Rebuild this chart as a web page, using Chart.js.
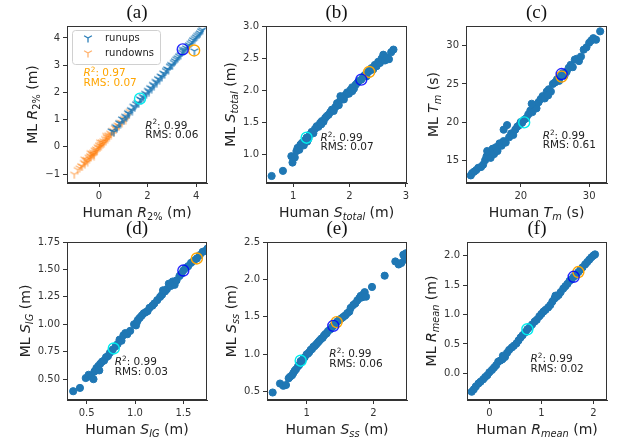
<!DOCTYPE html>
<html>
<head>
<meta charset="utf-8">
<title>ML vs human estimates</title>
<script src="https://cdn.jsdelivr.net/npm/chart.js@4.4.1/dist/chart.umd.min.js"></script>
<style>
  body { margin: 0; background: #fff; }
  #fig { position: relative; width: 619px; height: 442px; overflow: hidden; }
  .panel { position: absolute; }
</style>
</head>
<body>
<div id="fig"></div>
<script>
// (a) R2% : runups and rundowns
const runupHuman = [0.52,0.61,0.68,0.74,0.83,0.88,0.95,1.02,1.08,1.13,1.19,1.24,1.31,1.37,1.42,1.47,1.53,1.58,1.63,1.69,1.74,1.79,1.84,1.9,1.95,2.01,2.06,2.11,2.17,2.22,2.27,2.33,2.38,2.43,2.49,2.54,2.59,2.65,2.7,2.76,2.81,2.86,2.92,2.97,3.02,3.08,3.13,3.19,3.24,3.3,3.36,3.42,3.48,3.53,3.59,3.65,3.71,3.77,3.83,3.88,3.93,3.94,4.0,4.05,4.11,4.16,4.21,4.26,3.45];
const runupML    = [0.58,0.55,0.74,0.7,0.88,0.85,1.02,0.97,1.12,1.08,1.25,1.21,1.36,1.33,1.49,1.45,1.57,1.62,1.6,1.76,1.72,1.85,1.81,1.96,1.93,2.07,2.03,2.17,2.14,2.29,2.25,2.4,2.36,2.5,2.47,2.6,2.57,2.71,2.67,2.8,2.86,2.83,2.96,3.02,2.99,3.1,3.16,3.22,3.27,3.33,3.38,3.47,3.52,3.57,3.63,3.7,3.74,3.8,3.86,3.93,3.52,3.98,4.03,4.09,4.13,4.18,4.25,4.3,3.58];
const rundownHuman = [-1.02,-0.88,-0.8,-0.74,-0.69,-0.63,-0.58,-0.55,-0.5,-0.47,-0.43,-0.4,-0.37,-0.33,-0.3,-0.27,-0.24,-0.21,-0.18,-0.15,-0.12,-0.09,-0.06,-0.03,0.0,0.03,0.06,0.09,0.12,0.15,0.18,0.21,0.25,0.28,0.32,0.35,0.39,0.42,0.46,0.5,0.55,0.6,0.65,0.7,0.76,0.82,0.88,0.95,1.02,1.1,1.18,1.26,-0.35,-0.2,0.05,-0.6,0.3];
const rundownML    = [-1.01,-0.84,-0.78,-0.7,-0.72,-0.58,-0.62,-0.5,-0.47,-0.55,-0.38,-0.44,-0.33,-0.36,-0.25,-0.31,-0.2,-0.26,-0.12,-0.18,-0.08,-0.14,0.0,-0.05,0.06,-0.02,0.1,0.03,0.17,0.1,0.22,0.15,0.3,0.22,0.36,0.29,0.44,0.37,0.5,0.45,0.6,0.54,0.7,0.64,0.8,0.76,0.9,0.88,1.04,1.0,1.15,1.3,-0.22,-0.32,0.18,-0.45,0.42];

// (b) S_total
const sTotalHuman = [0.62,0.82,0.99,0.97,1.03,1.06,1.08,1.11,1.13,1.16,1.19,1.21,1.24,1.27,1.3,1.33,1.36,1.39,1.42,1.45,1.48,1.51,1.54,1.57,1.6,1.63,1.66,1.69,1.72,1.75,1.78,1.81,1.84,1.87,1.9,1.93,1.96,1.99,2.02,2.05,2.08,2.11,2.14,2.17,2.21,2.24,2.27,2.3,2.33,2.36,2.39,2.42,2.45,2.48,2.51,2.54,2.57,2.6,2.63,2.66,2.7,2.74,2.78,1.84,1.5,1.25,2.05];
const sTotalML    = [0.66,0.74,0.87,0.97,0.95,1.05,1.1,1.07,1.15,1.18,1.14,1.22,1.26,1.24,1.31,1.35,1.33,1.4,1.44,1.43,1.49,1.52,1.51,1.57,1.6,1.62,1.66,1.7,1.68,1.74,1.8,1.77,1.85,1.88,1.86,1.93,1.97,1.95,2.01,2.05,2.03,2.09,2.12,2.15,2.17,2.21,2.24,2.22,2.29,2.31,2.35,2.33,2.4,2.38,2.45,2.43,2.5,2.56,2.47,2.52,2.49,2.6,2.64,1.91,1.47,1.2,1.99];

// (c) T_m
const tmHuman = [12.7,12.9,13.2,13.5,13.8,14.2,14.5,14.8,15.0,15.1,15.3,15.6,15.9,16.1,16.4,16.6,16.9,17.2,17.5,17.8,18.0,17.5,18.3,18.6,18.9,19.2,19.5,19.8,20.2,20.5,20.8,21.1,21.4,21.7,22.0,22.3,22.6,22.9,23.2,23.5,23.8,24.1,24.4,24.7,25.0,25.3,25.6,25.9,26.1,26.4,26.7,27.0,27.3,27.6,27.9,28.2,28.5,28.8,29.2,29.6,30.0,30.3,30.6,31.0,31.6,20.0,21.6,24.0];
const tmML    = [13.0,13.3,13.5,13.7,14.0,14.1,14.4,15.0,15.5,16.2,16.0,15.3,16.5,15.8,16.7,16.2,17.2,16.9,17.5,17.3,19.6,19.0,18.0,18.5,18.3,19.0,19.4,19.6,19.9,20.3,20.5,21.0,21.5,21.3,22.2,21.8,22.6,23.0,23.4,23.1,24.0,24.3,24.0,25.0,25.2,25.6,25.4,26.2,26.4,26.1,26.6,27.1,27.5,27.2,28.2,28.3,28.0,28.6,29.5,29.8,30.4,30.7,31.0,30.8,31.9,20.0,22.4,23.5];

// (d) S_IG
const sigHuman = [0.36,0.43,0.49,0.52,0.55,0.57,0.58,0.6,0.62,0.64,0.66,0.68,0.7,0.72,0.74,0.77,0.8,0.82,0.84,0.86,0.88,0.9,0.92,0.95,0.99,1.01,1.03,1.05,1.07,1.09,1.11,1.13,1.15,1.18,1.2,1.23,1.26,1.28,1.31,1.33,1.35,1.37,1.39,1.41,1.43,1.46,1.48,1.5,1.52,1.55,1.58,1.61,1.64,1.67,1.7,1.73,1.75,0.63,1.02,1.29];
const sigML    = [0.39,0.42,0.51,0.54,0.52,0.5,0.57,0.6,0.62,0.64,0.66,0.67,0.7,0.71,0.74,0.77,0.8,0.82,0.86,0.85,0.9,0.92,0.91,0.94,1.0,0.99,1.04,1.06,1.08,1.1,1.11,1.12,1.15,1.17,1.19,1.22,1.25,1.27,1.3,1.32,1.37,1.35,1.39,1.36,1.4,1.44,1.46,1.49,1.51,1.53,1.56,1.58,1.6,1.63,1.66,1.67,1.69,0.58,1.02,1.31];

// (e) S_ss
const sssHuman = [0.49,0.6,0.65,0.69,0.73,0.75,0.78,0.8,0.82,0.84,0.87,0.89,0.91,0.93,0.95,0.97,1.0,1.02,1.04,1.06,1.08,1.1,1.12,1.14,1.16,1.18,1.2,1.22,1.24,1.26,1.28,1.3,1.32,1.35,1.38,1.4,1.43,1.46,1.49,1.52,1.55,1.58,1.61,1.64,1.66,1.7,1.73,1.76,1.79,1.81,1.83,1.85,1.87,1.89,1.98,2.17,2.33,2.38,2.42,2.45,2.47,2.49,2.51];
const sssML    = [0.49,0.61,0.58,0.59,0.68,0.7,0.72,0.75,0.78,0.8,0.84,0.86,0.91,0.9,0.94,0.96,1.0,1.01,1.03,1.06,1.07,1.1,1.11,1.13,1.15,1.17,1.19,1.21,1.22,1.25,1.27,1.28,1.31,1.33,1.36,1.38,1.41,1.44,1.46,1.48,1.5,1.52,1.55,1.57,1.62,1.66,1.68,1.72,1.75,1.78,1.76,1.8,1.83,1.77,1.9,2.05,2.24,2.2,2.22,2.33,2.29,2.35,2.26];

// (f) R_mean
const rmeanHuman = [-0.34,-0.3,-0.26,-0.21,-0.17,-0.12,-0.08,-0.04,0.0,0.05,0.09,0.13,0.17,0.21,0.25,0.3,0.34,0.38,0.43,0.47,0.52,0.56,0.6,0.64,0.69,0.73,0.78,0.82,0.87,0.91,0.96,1.0,1.04,1.08,1.13,1.17,1.21,1.25,1.29,1.33,1.37,1.42,1.46,1.5,1.54,1.58,1.62,1.66,1.71,1.75,1.79,1.84,1.88,1.92,1.96,2.0,2.03,0.26,1.27];
const rmeanML    = [-0.31,-0.27,-0.22,-0.17,-0.14,-0.1,-0.06,-0.03,0.02,0.06,0.1,0.14,0.2,0.22,0.24,0.28,0.35,0.4,0.44,0.47,0.51,0.56,0.61,0.65,0.7,0.75,0.79,0.83,0.88,0.91,0.97,1.01,1.05,1.08,1.12,1.16,1.22,1.27,1.3,1.33,1.38,1.44,1.48,1.52,1.57,1.6,1.64,1.67,1.72,1.76,1.8,1.85,1.89,1.93,1.97,2.0,2.02,0.3,1.32];

// highlighted events, order: blue, orange, cyan
const aMarkHuman = [3.45, 3.92, 1.69], aMarkML = [3.58, 3.54, 1.77];
const bMarkHuman = [2.21, 2.35, 1.24], bMarkML = [2.17, 2.29, 1.26];
const cMarkHuman = [25.97, 25.97, 20.5], cMarkML = [26.3, 25.96, 19.95];
const dMarkHuman = [1.5, 1.64, 0.78], dMarkML = [1.49, 1.6, 0.78];
const eMarkHuman = [1.4, 1.45, 0.91], eMarkML = [1.38, 1.43, 0.915];
const fMarkHuman = [1.62, 1.71, 0.73], fMarkML = [1.64, 1.72, 0.75];

// tick values
const aXTicks = [0, 2, 4], aYTicks = [-1, 0, 1, 2, 3, 4];
const bXTicks = [1, 2, 3], bYTicks = [1.0, 1.5, 2.0, 2.5, 3.0];
const cXTicks = [20, 30], cYTicks = [15, 20, 25, 30];
const dXTicks = [0.5, 1.0, 1.5], dYTicks = [0.5, 0.75, 1.0, 1.25, 1.5, 1.75];
const eXTicks = [1, 2], eYTicks = [0.5, 1.0, 1.5, 2.0, 2.5];
const fXTicks = [0, 1, 2], fYTicks = [0.0, 0.5, 1.0, 1.5, 2.0];

const BLUE = '#1f77b4', ORANGE = '#ff7f0e';
const markColors = ['rgba(0,0,255,0.85)', '#ffa500', '#00eeee'];
const FONT = '"DejaVu Sans", sans-serif';
const Y_AXIS_W = 67, TOP_PAD = 30, X_AXIS_H = 55, RIGHT_PAD = 12;

// tri_down marker as an image
function triMarker(color) {
  const c = document.createElement('canvas');
  c.width = 10; c.height = 10;
  const g = c.getContext('2d');
  g.strokeStyle = color; g.lineWidth = 1.3;
  g.beginPath();
  g.moveTo(5, 5); g.lineTo(5, 9.5);
  g.moveTo(5, 5); g.lineTo(1.1, 2.75);
  g.moveTo(5, 5); g.lineTo(8.9, 2.75);
  g.stroke();
  return c;
}
const triBlue = triMarker('rgba(31,119,180,0.95)');
const triOrange = triMarker('rgba(255,127,14,0.6)');

function pts(xs, ys) { return xs.map((x, i) => ({ x: x, y: ys[i] })); }
function fmt(v, d) { return v.toFixed(d).replace('-', '\u2212'); }

function fontFor(kind, size) {
  const small = kind === 's' || kind === 'si' || kind === 'p';
  const sz = small ? size * 0.7 : size;
  const it = kind === 'i' || kind === 'si';
  return (it ? 'italic ' : '') + sz.toFixed(1) + 'px ' + FONT;
}
function richWidth(ctx, parts, size) {
  let w = 0;
  parts.forEach(p => { ctx.font = fontFor(p[1], size); w += ctx.measureText(p[0]).width; });
  return w;
}
// parts: [text, kind]; kind '' normal, 'i' italic, 's' subscript, 'si' italic subscript, 'p' superscript
function drawRich(ctx, parts, x, y, size, center, rot) {
  ctx.save();
  ctx.translate(x, y);
  if (rot) ctx.rotate(rot);
  let cx = center ? -richWidth(ctx, parts, size) / 2 : 0;
  const base = size * 0.36;
  ctx.textBaseline = 'alphabetic';
  ctx.textAlign = 'left';
  parts.forEach(p => {
    ctx.font = fontFor(p[1], size);
    let dy = 0;
    if (p[1] === 's' || p[1] === 'si') dy = size * 0.22;
    if (p[1] === 'p') dy = -size * 0.4;
    ctx.fillText(p[0], cx, base + dy);
    cx += ctx.measureText(p[0]).width;
  });
  ctx.restore();
}

const panels = [
  { label: '(a)', left: 67, top: 26, w: 140, h: 157,
    x: { min: -1.32, max: 4.45, ticks: aXTicks, dec: 0 },
    y: { min: -1.33, max: 4.44, ticks: aYTicks, dec: 0 },
    xTitle: [['Human ', ''], ['R', 'i'], ['2%', 's'], [' (m)', '']],
    yTitle: [['ML ', ''], ['R', 'i'], ['2%', 's'], [' (m)', '']],
    series: [
      { label: 'runups', data: pts(runupHuman, runupML), style: triBlue, color: BLUE },
      { label: 'rundowns', data: pts(rundownHuman, rundownML), style: triOrange, color: ORANGE }
    ],
    marks: pts(aMarkHuman, aMarkML), legend: true,
    notes: [
      { x: 1.9, y: 0.81, color: '#222', r2: '0.99', rms: '0.06' },
      { x: -0.64, y: 2.73, color: '#ffa500', r2: '0.97', rms: '0.07' }
    ] },
  { label: '(b)', left: 266, top: 26, w: 141, h: 157,
    x: { min: 0.52, max: 3.02, ticks: bXTicks, dec: 0 },
    y: { min: 0.55, max: 3.01, ticks: bYTicks, dec: 1 },
    xTitle: [['Human ', ''], ['S', 'i'], ['total', 'si'], [' (m)', '']],
    yTitle: [['ML ', ''], ['S', 'i'], ['total', 'si'], [' (m)', '']],
    series: [{ label: 'S_total', data: pts(sTotalHuman, sTotalML) }],
    marks: pts(bMarkHuman, bMarkML),
    notes: [{ x: 1.485, y: 1.27, color: '#222', r2: '0.99', rms: '0.07' }] },
  { label: '(c)', left: 466, top: 26, w: 141, h: 157,
    x: { min: 12.0, max: 32.6, ticks: cXTicks, dec: 0 },
    y: { min: 12.0, max: 32.6, ticks: cYTicks, dec: 0 },
    xTitle: [['Human ', ''], ['T', 'i'], ['m', 'si'], [' (s)', '']],
    yTitle: [['ML ', ''], ['T', 'i'], ['m', 'si'], [' (s)', '']],
    series: [{ label: 'T_m', data: pts(tmHuman, tmML) }],
    marks: pts(cMarkHuman, cMarkML),
    notes: [{ x: 23.2, y: 18.3, color: '#222', r2: '0.99', rms: '0.61' }] },
  { label: '(d)', left: 67, top: 242, w: 140, h: 158,
    x: { min: 0.296, max: 1.745, ticks: dXTicks, dec: 1 },
    y: { min: 0.31, max: 1.75, ticks: dYTicks, dec: 2 },
    xTitle: [['Human ', ''], ['S', 'i'], ['IG', 'si'], [' (m)', '']],
    yTitle: [['ML ', ''], ['S', 'i'], ['IG', 'si'], [' (m)', '']],
    series: [{ label: 'S_IG', data: pts(sigHuman, sigML) }],
    marks: pts(dMarkHuman, dMarkML),
    notes: [{ x: 0.79, y: 0.66, color: '#222', r2: '0.99', rms: '0.03' }] },
  { label: '(e)', left: 267, top: 242, w: 140, h: 158,
    x: { min: 0.405, max: 2.505, ticks: eXTicks, dec: 0 },
    y: { min: 0.39, max: 2.5, ticks: eYTicks, dec: 1 },
    xTitle: [['Human ', ''], ['S', 'i'], ['ss', 'si'], [' (m)', '']],
    yTitle: [['ML ', ''], ['S', 'i'], ['ss', 'si'], [' (m)', '']],
    series: [{ label: 'S_ss', data: pts(sssHuman, sssML) }],
    marks: pts(eMarkHuman, eMarkML),
    notes: [{ x: 1.34, y: 1.01, color: '#222', r2: '0.99', rms: '0.06' }] },
  { label: '(f)', left: 467, top: 242, w: 140, h: 158,
    x: { min: -0.43, max: 2.26, ticks: fXTicks, dec: 0 },
    y: { min: -0.45, max: 2.23, ticks: fYTicks, dec: 1 },
    xTitle: [['Human ', ''], ['R', 'i'], ['mean', 'si'], [' (m)', '']],
    yTitle: [['ML ', ''], ['R', 'i'], ['mean', 'si'], [' (m)', '']],
    series: [{ label: 'R_mean', data: pts(rmeanHuman, rmeanML) }],
    marks: pts(fMarkHuman, fMarkML),
    notes: [{ x: 0.79, y: 0.255, color: '#222', r2: '0.99', rms: '0.02' }] }
];

function axisOpts(a, isX) {
  return {
    type: 'linear', position: isX ? 'bottom' : 'left',
    min: a.min, max: a.max,
    afterBuildTicks: s => { s.ticks = a.ticks.map(v => ({ value: v })); },
    afterFit: s => { if (isX) s.height = X_AXIS_H; else s.width = Y_AXIS_W; },
    ticks: { font: { family: FONT, size: 10 }, color: '#333', padding: 3,
      autoSkip: false, maxRotation: 0, callback: v => fmt(v, a.dec) },
    grid: { drawOnChartArea: false, drawTicks: true, tickLength: 4, tickColor: '#333', tickWidth: 1 },
    border: { display: true, color: '#333', width: 1 }
  };
}

const decor = {
  id: 'decor',
  afterDraw(chart) {
    const p = chart.config.options.panel;
    const ctx = chart.ctx, ca = chart.chartArea;
    const xs = chart.scales.x, ys = chart.scales.y;
    ctx.save();
    // full box
    ctx.strokeStyle = '#333'; ctx.lineWidth = 1;
    ctx.strokeRect(Math.round(ca.left) + 0.5, Math.round(ca.top) + 0.5, Math.round(ca.width) - 1, Math.round(ca.height) - 1);
    ctx.fillStyle = '#111';
    // panel label
    ctx.font = '19px "Liberation Serif", serif';
    ctx.textAlign = 'center'; ctx.textBaseline = 'middle';
    ctx.fillText(p.label, (ca.left + ca.right) / 2, ca.top - 13);
    // axis titles
    ctx.fillStyle = '#222';
    drawRich(ctx, p.xTitle, (ca.left + ca.right) / 2, ca.bottom + 29, 14, true, 0);
    ctx.font = '10px ' + FONT;
    let widest = 0;
    p.y.ticks.forEach(v => { widest = Math.max(widest, ctx.measureText(fmt(v, p.y.dec)).width); });
    drawRich(ctx, p.yTitle, ca.left - 4 - 3 - widest - 13, (ca.top + ca.bottom) / 2, 14, true, -Math.PI / 2);
    // annotations
    p.notes.forEach(n => {
      ctx.fillStyle = n.color;
      const nx = xs.getPixelForValue(n.x), ny = ys.getPixelForValue(n.y);
      drawRich(ctx, [['R', 'i'], ['2', 'p'], [': ' + n.r2, '']], nx, ny, 10.5, false, 0);
      drawRich(ctx, [['RMS: ' + n.rms, '']], nx, ny + 9.5, 10.5, false, 0);
    });
    // legend (upper left, inside the axes)
    if (p.legend) {
      const l = ca.left + 5, t = ca.top + 4;
      ctx.fillStyle = 'rgba(255,255,255,0.8)';
      ctx.strokeStyle = '#d0d0d0'; ctx.lineWidth = 1;
      ctx.beginPath();
      ctx.roundRect(Math.round(l) + 0.5, Math.round(t) + 0.5, 88, 34, 3);
      ctx.fill(); ctx.stroke();
      p.series.forEach((s, i) => {
        const cy = ca.top + 12 + i * 15;
        ctx.drawImage(s.style, ca.left + 21 - 5, cy - 5);
        ctx.fillStyle = '#222';
        ctx.font = '10px ' + FONT;
        ctx.textAlign = 'left'; ctx.textBaseline = 'middle';
        ctx.fillText(s.label, ca.left + 38, cy);
      });
    }
    ctx.restore();
  }
};

const fig = document.getElementById('fig');
panels.forEach(p => {
  const W = p.w + Y_AXIS_W + RIGHT_PAD, H = p.h + TOP_PAD + X_AXIS_H;
  const div = document.createElement('div');
  div.className = 'panel';
  div.style.left = (p.left - Y_AXIS_W) + 'px';
  div.style.top = (p.top - TOP_PAD) + 'px';
  div.style.width = W + 'px';
  div.style.height = H + 'px';
  const cv = document.createElement('canvas');
  cv.width = W; cv.height = H;
  cv.style.width = W + 'px'; cv.style.height = H + 'px';
  div.appendChild(cv);
  fig.appendChild(div);

  const datasets = p.series.map(s => ({
    label: s.label, data: s.data, order: 2,
    pointStyle: s.style || 'circle', pointRadius: s.style ? 4 : 3.6,
    backgroundColor: s.color || BLUE, borderColor: s.color || BLUE, borderWidth: s.style ? 0 : 1
  }));
  p.marks.forEach((m, i) => {
    datasets.push({ label: '', data: [m], order: 1, pointStyle: 'circle', pointRadius: 5.5,
      backgroundColor: 'rgba(0,0,0,0)', borderColor: markColors[i], borderWidth: 1.4 });
  });

  new Chart(cv, {
    type: 'scatter',
    data: { datasets: datasets },
    options: {
      panel: p,
      responsive: false, animation: false, devicePixelRatio: 1, events: [],
      layout: { padding: { top: TOP_PAD, right: RIGHT_PAD, left: 0, bottom: 0 } },
      scales: { x: axisOpts(p.x, true), y: axisOpts(p.y, false) },
      plugins: { tooltip: { enabled: false }, title: { display: false }, legend: { display: false } }
    },
    plugins: [decor]
  });
});
</script>
</body>
</html>
